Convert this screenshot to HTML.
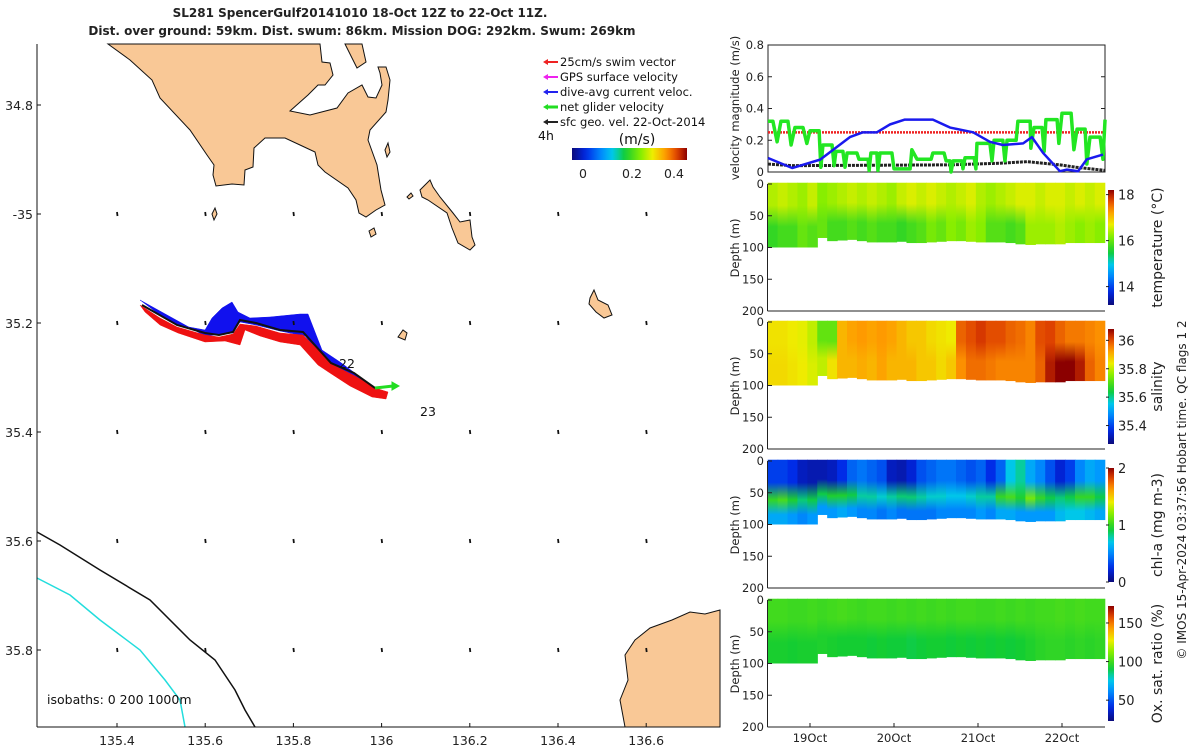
<!DOCTYPE html>
<html><head><meta charset="utf-8"><style>
body{margin:0;background:#fff;}
svg{display:block;font-family:"DejaVu Sans","Liberation Sans",sans-serif;}
</style></head><body>
<svg id="root" width="1200" height="750" viewBox="0 0 1200 750">
<text x="360" y="17" font-size="12" font-weight="bold" text-anchor="middle" fill="#222">SL281 SpencerGulf20141010 18-Oct 12Z to 22-Oct 11Z.</text>
<text x="362" y="35" font-size="12" font-weight="bold" text-anchor="middle" fill="#222">Dist. over ground: 59km. Dist. swum: 86km. Mission DOG: 292km. Swum: 269km</text>
<g id="map"></g>
<g id="right"></g>
<text transform="translate(1186,490) rotate(-90)" font-size="12" text-anchor="middle" fill="#222">© IMOS 15-Apr-2024 03:37:56 Hobart time. QC flags 1  2</text>
</svg>
<script>
// ---------- velocity data (hours since 18-Oct 12Z) ----------
const greenT=[0,1.4,2.6,3.7,5.7,6.6,7.7,10,11.1,12,14.6,15.1,15.7,18.3,18.9,19.4,21.4,22,22.6,25.4,26,28.6,28.9,29.4,31.1,31.4,32,35.4,36,40.6,41.1,42.6,46.6,47.1,50.3,50.9,52,52.3,52.9,55.4,55.7,56.3,58.9,59.4,59.7,63.4,64,64.6,67.1,67.7,68.3,70.9,71.4,74.9,75.1,76,78.3,78.9,79.4,82.6,83.1,84,86.6,87.4,88.3,90.6,91.1,92,94.9,95.7,96.3];
const greenV=[.32,.32,.19,.32,.32,.17,.28,.28,.18,.26,.26,.03,.17,.17,.04,.13,.13,.03,.12,.12,.08,.08,.01,.12,.12,.01,.12,.12,.02,.02,.14,.08,.08,.12,.12,.07,.07,0,.07,.07,.02,.09,.09,.02,.18,.18,.07,.2,.2,.07,.2,.2,.32,.32,.15,.28,.28,.13,.33,.33,.18,.37,.37,.14,.27,.27,.05,.22,.22,.08,.33];
const blueT=[0,6.9,14.9,23.4,27.1,31.1,34.9,39.1,47.1,52,58.6,63.4,67.1,72.9,75.4,78.6,83.4,85.4,88.6,91.1,95.7];
const blueV=[.088,.025,.078,.22,.25,.25,.30,.33,.33,.28,.25,.19,.17,.18,.22,.12,.005,.015,.005,.08,.11];
const blackT=[0,6.9,52,66,74,83.4,88,96.3];
const blackV=[.05,.04,.045,.055,.065,.045,.03,.01];
const swimT=[0,96.3];
const swimV=[.25,.25];
const velTicks=[0,0.2,0.4,0.6,0.8];
const dateTicksH=[12,36,60,84];
const dateLabels=["19Oct","20Oct","21Oct","22Oct"];
// ---------- section columns (34 columns across the record) ----------
const bottomDepth=[100,100,100,100,100,85,90,89,88,90,92,92,92,91,93,93,92,91,90,90,91,92,92,92,93,95,96,95,95,95,93,93,93,93];
const tempUp=[16.4,16.5,16.4,16.3,16.5,16.2,16.3,16.4,16.5,16.4,16.5,16.4,16.3,16.5,16.6,16.5,16.6,16.5,16.4,16.5,16.6,16.4,16.3,16.4,16.5,16.6,16.6,16.5,16.6,16.6,16.5,16.6,16.5,16.6];
const tempLo=[15.7,15.8,15.8,16.0,15.9,16.0,15.8,15.8,15.9,15.8,15.9,15.8,15.8,15.7,15.8,15.9,16.1,16.0,16.2,16.1,16.3,16.2,15.9,15.9,15.8,15.9,16.3,16.3,16.3,16.4,16.3,16.2,16.3,16.2];
const salUp=[35.85,35.85,35.84,35.83,35.80,35.72,35.72,35.9,35.92,35.93,35.92,35.93,35.92,35.9,35.88,35.88,35.86,35.85,35.84,35.98,36.0,36.02,36.0,36.0,35.98,35.97,35.95,36.0,36.01,35.98,35.96,35.96,35.95,35.94];
const salLo=[35.86,35.86,35.85,35.84,35.82,35.8,35.85,35.9,35.9,35.91,35.9,35.92,35.9,35.9,35.9,35.88,35.88,35.86,35.88,35.94,35.97,35.97,35.96,35.95,35.95,35.95,35.95,35.98,36.05,36.09,36.1,36.05,35.98,35.95];
const chlUp=[.3,.3,.25,.15,.12,.12,.15,.25,.4,.45,.4,.35,.15,.12,.2,.35,.4,.45,.45,.4,.35,.4,.25,.4,.7,.8,.6,.5,.35,.2,.3,.5,.6,.55];
const chlMid=[1.0,1.05,.95,.85,.9,.9,.95,.95,.9,.8,.8,.75,.8,.85,.85,.8,.75,.75,.7,.7,.75,.8,.8,1.0,1.05,.95,1.15,1.0,.9,.85,.9,1.0,1.0,.9];
const chlLo=[.6,.6,.55,.5,.55,.55,.55,.6,.55,.5,.5,.45,.5,.45,.45,.45,.45,.5,.5,.5,.5,.55,.5,.6,.6,.55,.55,.55,.55,.65,.7,.7,.65,.6];
const oxUp=[100,100,99,99,100,99,100,101,100,99,100,100,99,100,99,100,99,100,99,100,100,99,99,100,99,100,99,100,100,101,100,101,100,100];
const oxLo=[93,93,92,93,93,94,93,92,92,92,91,92,91,91,90,91,92,92,91,92,91,92,91,92,91,92,94,96,97,97,96,97,96,97];
const depthTicks=[0,50,100,150,200];

const NS="http://www.w3.org/2000/svg";
function mk(tag,attrs,parent){const e=document.createElementNS(NS,tag);for(const k in attrs)e.setAttribute(k,attrs[k]);parent.appendChild(e);return e;}
const stops=[[0,[11,11,122]],[0.12,[0,40,230]],[0.27,[0,150,255]],[0.36,[0,205,230]],[0.46,[17,204,51]],[0.6,[136,238,0]],[0.7,[238,238,0]],[0.82,[255,150,0]],[0.92,[220,60,0]],[1,[139,0,0]]];
function cmap(t){t=Math.max(0,Math.min(1,t));for(let i=1;i<stops.length;i++){if(t<=stops[i][0]){const a=stops[i-1],b=stops[i];const f=(t-a[0])/(b[0]-a[0]);const c=a[1].map((v,j)=>Math.round(v+(b[1][j]-v)*f));return `rgb(${c[0]},${c[1]},${c[2]})`;}}return 'rgb(139,0,0)';}

const R=document.getElementById('right');
const X0=768,X1=1105;
const hx=h=>X0+h*3.5;
const vy=v=>172-v*158.75;
mk('rect',{x:X0,y:45,width:X1-X0,height:127,fill:'none',stroke:'#222','stroke-width':1},R);
velTicks.forEach(v=>{
  const t=mk('text',{x:764,y:vy(v)+4,'font-size':11.5,'text-anchor':'end',fill:'#222'},R);t.textContent=v===0?'0':v.toFixed(1);
  
  mk('line',{x1:X0,x2:X0+4,y1:vy(v),y2:vy(v),stroke:'#222'},R);
  mk('line',{x1:X1-4,x2:X1,y1:vy(v),y2:vy(v),stroke:'#222'},R);
});
{const t=mk('text',{transform:'translate(739,108) rotate(-90)','font-size':11.5,'text-anchor':'middle',fill:'#222'},R);t.textContent='velocity magnitude (m/s)';
}
function line(T,V,col,w,name,dash){const p=mk('polyline',{points:T.map((t,i)=>hx(t)+','+vy(V[i])).join(' '),fill:'none',stroke:col,'stroke-width':w,'stroke-linejoin':'round'},R);if(dash)p.setAttribute('stroke-dasharray',dash);
}
line(swimT,swimV,'#ee2222',2.5,'swim-vector-line','2 1');
line(blackT,blackV,'#222',3,'sfc-geo-velocity-line','3 1');
line(greenT,greenV,'#22e622',3.5,'net-glider-velocity-line');
line(blueT,blueV,'#1a1aee',2.5,'dive-avg-current-line');

const panels=[
 {top:184,name:'temperature',min:13.2,max:18.2,ticks:[14,16,18],lab:'temperature (°C)',cbTop:190,cbBot:305,up:tempUp,lo:tempLo},
 {top:322,name:'salinity',min:35.27,max:36.08,ticks:[35.4,35.6,35.8,36],lab:'salinity',cbTop:329,cbBot:444,up:salUp,lo:salLo},
 {top:461,name:'chlorophyll',min:0,max:2,ticks:[0,1,2],lab:'chl-a (mg m-3)',cbTop:468,cbBot:582,up:chlUp,mid:chlMid,lo:chlLo},
 {top:600,name:'oxygen',min:23,max:172,ticks:[50,100,150],lab:'Ox. sat. ratio (%)',cbTop:606,cbBot:721,up:oxUp,lo:oxLo}
];
const ncol=bottomDepth.length, colW=(X1-X0)/ncol;
panels.forEach((P,pi)=>{
  const dy=d=>P.top+d*0.635;
  const g=mk('g',{},R);
  const nrm=v=>(v-P.min)/(P.max-P.min);
  for(let i=0;i<ncol;i++){
    const x=X0+i*colW, bd=bottomDepth[i];
    const gid='gr'+pi+'_'+i;
    const lg=mk('linearGradient',{id:gid,x1:0,y1:0,x2:0,y2:1},g);
    const top=P.up[i],lo=P.lo[i];
    mk('stop',{offset:'0','stop-color':cmap(nrm(top))},lg);
    mk('stop',{offset:'0.35','stop-color':cmap(nrm(top))},lg);
    if(P.mid){mk('stop',{offset:'0.62','stop-color':cmap(nrm(P.mid[i]))},lg);}
    mk('stop',{offset:P.mid?'0.85':'0.68','stop-color':cmap(nrm(lo))},lg);
    mk('stop',{offset:'1','stop-color':cmap(nrm(lo))},lg);
    const r=mk('rect',{x:x-0.3,y:dy(-2),width:colW+0.6,height:dy(bd)-dy(-2),fill:`url(#${gid})`},g);
    
  }
  mk('line',{x1:X0-0.5,x2:X0-0.5,y1:P.top,y2:P.top+127,stroke:'#222'},R);
  mk('line',{x1:X0-0.5,x2:X1,y1:P.top+127,y2:P.top+127,stroke:'#222'},R);
  depthTicks.forEach(d=>{
    const t=mk('text',{x:764,y:dy(d)+4,'font-size':11.5,'text-anchor':'end',fill:'#222'},R);t.textContent=d;
    
    mk('line',{x1:X0,x2:X0+4,y1:dy(d),y2:dy(d),stroke:'#222'},R);
  });
  const yt=mk('text',{transform:`translate(739,${P.top+64}) rotate(-90)`,'font-size':11.5,'text-anchor':'middle',fill:'#222'},R);yt.textContent='Depth (m)';
  
  const cg=mk('linearGradient',{id:'cb'+pi,x1:0,y1:1,x2:0,y2:0},R);
  for(let k=0;k<=20;k++)mk('stop',{offset:k/20,'stop-color':cmap(k/20)},cg);
  const cb=mk('rect',{x:1108,y:P.cbTop,width:6,height:P.cbBot-P.cbTop,fill:`url(#cb${pi})`},R);
  
  P.ticks.forEach(v=>{
    const y=P.cbBot-(v-P.min)/(P.max-P.min)*(P.cbBot-P.cbTop);
    mk('line',{x1:1106,x2:1109,y1:y,y2:y,stroke:'#222'},R);
    const t=mk('text',{x:1118,y:y+5,'font-size':13,fill:'#222'},R);t.textContent=v;
    
  });
  const cl=mk('text',{transform:`translate(1162,${(P.cbTop+P.cbBot)/2}) rotate(-90)`,'font-size':14,'text-anchor':'middle',fill:'#222'},R);cl.textContent=P.lab;
  
});
dateTicksH.forEach((h,i)=>{
  mk('line',{x1:hx(h),x2:hx(h),y1:723,y2:727,stroke:'#222'},R);
  const t=mk('text',{x:hx(h),y:742,'font-size':11.5,'text-anchor':'middle',fill:'#222'},R);t.textContent=dateLabels[i];
  
});

// ---------- map ----------
const M=document.getElementById('map');
const lonTicks=[135.4,135.6,135.8,136,136.2,136.4,136.6];
const lonLabels=["135.4","135.6","135.8","136","136.2","136.4","136.6"];
const latTicks=[34.8,35,35.2,35.4,35.6,35.8];
const latLabels=["34.8","-35","35.2","35.4","35.6","35.8"];
const lx=lon=>117+(lon-135.4)*441;
const ly=lat=>105+(lat-34.8)*545;
function poly(pts,fill,name,stroke,sw){const p=mk('polygon',{points:pts,fill:fill,stroke:stroke||'#111','stroke-width':sw||1},M);return p;}
function pl(pts,col,w,name){const p=mk('polyline',{points:pts,fill:'none',stroke:col,'stroke-width':w},M);}
poly('108,44 320,44 322,62 330,63 333,75 325,85 318,85 308,95 290,111 310,115 337,108 348,93 362,85 368,97 376,98 382,85 380,73 378,67 386,67 390,80 388,100 386,112 370,130 368,140 377,165 381,190 385,205 376,210 366,217 359,213 356,200 348,188 325,172 318,165 315,152 300,145 285,138 265,138 254,148 253,167 245,170 244,185 232,184 216,186 213,175 214,165 207,155 190,130 160,98 152,80 130,60','#f9c896','yorke-peninsula');
poly('345,44 362,44 366,62 357,68 352,58','#f9c896','peninsula-strip');
poly('420,190 430,180 433,187 440,197 453,213 460,222 470,220 472,237 475,245 470,250 458,243 452,228 447,213 428,200 422,197','#f9c896','island-east');
poly('590,298 594,290 598,300 608,305 612,315 604,318 596,312 589,304','#f9c896','island-small-1');
poly('398,337 403,330 407,333 405,340','#f9c896','island-small-2');
poly('212,214 215,208 217,214 214,220','#f9c896','island-small-3');
poly('369,231 374,228 376,234 371,237','#f9c896','island-small-4');
poly('385,150 388,143 390,152 387,157','#f9c896','island-small-5');
poly('407,197 411,193 413,196 409,199','#f9c896','island-small-6');
poly('720,610 705,614 690,612 672,620 650,628 635,640 625,655 628,680 620,700 625,727 720,727','#f9c896','land-southeast');
pl('37,532 60,545 100,570 150,600 190,640 215,660 235,690 245,710 255,727','#111',1.5,'isobath-200m');
pl('37,578 70,595 100,620 140,650 165,680 180,700 185,727','#22dddd',1.5,'isobath-1000m');
poly('140,300 160,315 178,325 205,330 212,318 222,308 232,302 238,312 250,318 270,317 300,314 308,314 322,350 340,362 375,388 350,375 330,365 305,336 280,331 256,325 240,322 233,333 205,336','#1111ee','dive-avg-current-vectors','#1111ee',0.5);
poly('140,305 160,318 177,327 205,335 219,337 233,334 240,324 256,326 280,333 303,335 320,352 331,364 355,376 375,388 388,392 386,399 372,397 350,386 330,373 318,365 300,345 280,342 260,336 245,330 240,345 225,341 205,342 178,333 160,325 145,312','#ee1111','swim-vectors','#ee1111',0.5);
pl('142,305 177,325 205,333 219,335 233,332 240,320 256,323 280,330 303,332 331,363 354,373 375,388','#111',2,'glider-track');
pl('375,388 393,386','#22dd22',3,'net-glider-velocity-arrow');
poly('392,382 399,386 392,390','#22dd22','net-velocity-arrowhead','#22dd22',1);
const t22=mk('text',{x:339,y:368,'font-size':12.5,fill:'#111'},M);t22.textContent='22';
const t23=mk('text',{x:420,y:416,'font-size':12.5,fill:'#111'},M);t23.textContent='23';
lonTicks.forEach(lo=>latTicks.slice(1).forEach(la=>{
  const x=lx(lo),y=ly(la);
  const a=mk('line',{x1:x,y1:y-2,x2:x+0.5,y2:y+2,stroke:'#111','stroke-width':1.8},M);
  
}));
mk('line',{x1:37,x2:37,y1:44,y2:727,stroke:'#111'},M);
mk('line',{x1:37,x2:720,y1:727,y2:727,stroke:'#111'},M);
latTicks.forEach((la,i)=>{mk('line',{x1:37,x2:41,y1:ly(la),y2:ly(la),stroke:'#111'},M);
  const t=mk('text',{x:33,y:ly(la)+5,'font-size':12.5,'text-anchor':'end',fill:'#222'},M);t.textContent=latLabels[i];
  });
lonTicks.forEach((lo,i)=>{mk('line',{x1:lx(lo),x2:lx(lo),y1:723,y2:727,stroke:'#111'},M);
  const t=mk('text',{x:lx(lo),y:745,'font-size':12.5,'text-anchor':'middle',fill:'#222'},M);t.textContent=lonLabels[i];
  });
const iso=mk('text',{x:47,y:704,'font-size':12.5,fill:'#111'},M);iso.textContent='isobaths: 0   200  1000m';
const legItems=[['25cm/s swim vector','#ee2222'],['GPS surface velocity','#ee22ee'],['dive-avg current veloc.','#2222ee'],['net glider velocity','#22dd22'],['sfc geo. vel. 22-Oct-2014','#222']];
legItems.forEach((it,i)=>{const y=62+i*15;
  const g=mk('g',{},M);
  mk('line',{x1:547,x2:558,y1:y,y2:y,stroke:it[1],'stroke-width':i===3?3:2},g);
  mk('polygon',{points:`543,${y} 548,${y-3} 548,${y+3}`,fill:it[1]},g);
  const t=mk('text',{x:560,y:y+4,'font-size':11.5,fill:'#111'},g);t.textContent=it[0];});
const h4=mk('text',{x:538,y:140,'font-size':12.5,fill:'#111'},M);h4.textContent='4h';
const ms=mk('text',{x:637,y:144,'font-size':14,'text-anchor':'middle',fill:'#111'},M);ms.textContent='(m/s)';
const sg=mk('linearGradient',{id:'spd',x1:0,y1:0,x2:1,y2:0},M);
for(let k=0;k<=20;k++)mk('stop',{offset:k/20,'stop-color':cmap(k/20)},sg);
const sc=mk('rect',{x:572,y:148,width:115,height:12,fill:'url(#spd)'},M);
[['0',583],['0.2',632],['0.4',674]].forEach(a=>{const t=mk('text',{x:a[1],y:178,'font-size':12.5,'text-anchor':'middle',fill:'#222'},M);t.textContent=a[0];
  });
</script>
</body></html>
